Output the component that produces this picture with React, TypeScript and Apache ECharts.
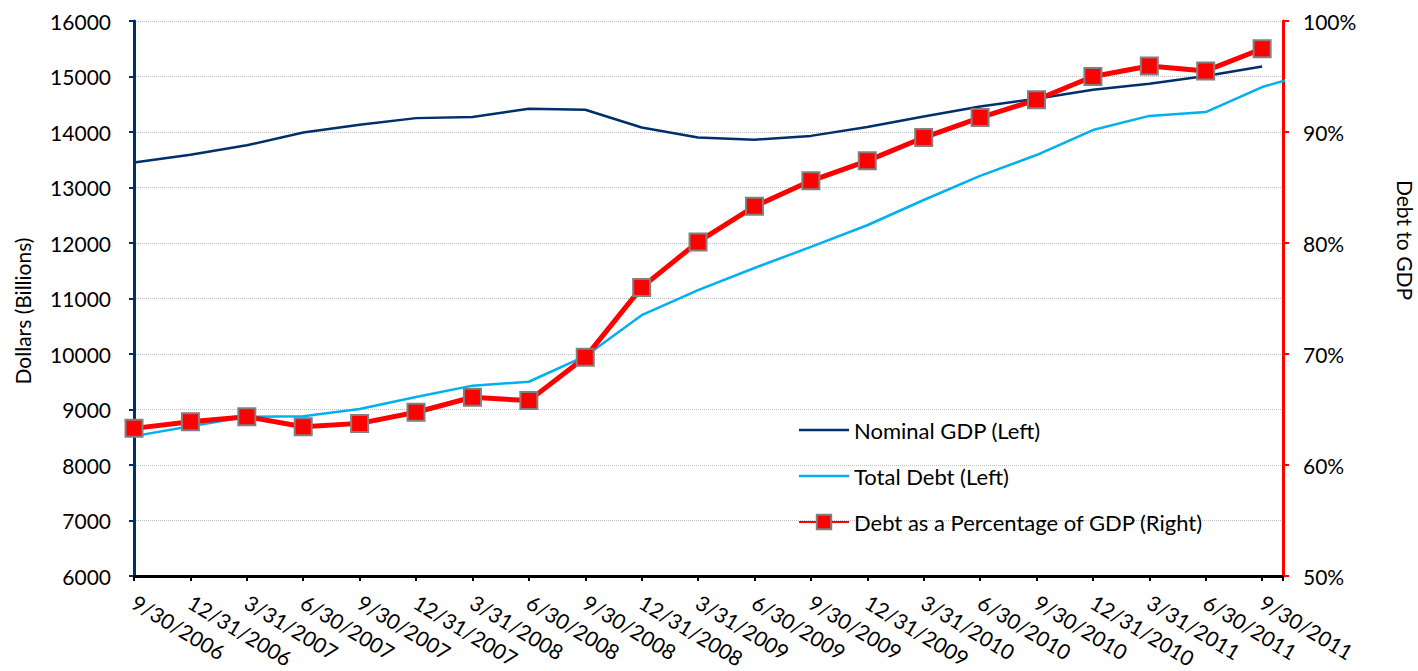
import React, { useEffect, useRef } from "react";
import * as echarts from "echarts";

// Quarter-end dates; the last one only carries the Total Debt trail past the frame edge
const categories = [
  "9/30/2006", "12/31/2006", "3/31/2007", "6/30/2007", "9/30/2007", "12/31/2007",
  "3/31/2008", "6/30/2008", "9/30/2008", "12/31/2008", "3/31/2009", "6/30/2009",
  "9/30/2009", "12/31/2009", "3/31/2010", "6/30/2010", "9/30/2010", "12/31/2010",
  "3/31/2011", "6/30/2011", "9/30/2011", "12/31/2011",
];

// Billions of dollars
const nominalGdp = [
  13450, 13590, 13760, 13990, 14130, 14250, 14270, 14420, 14400, 14080, 13900,
  13860, 13930, 14090, 14280, 14460, 14600, 14760, 14870, 15010, 15180,
];
const totalDebt = [
  8520, 8700, 8870, 8880, 9010, 9225, 9430, 9500, 9960, 10700, 11150, 11550,
  11930, 12320, 12775, 13210, 13585, 14035, 14290, 14360, 14810, 15100,
];
// Percent
const debtToGdp = [
  63.3, 63.9, 64.35, 63.45, 63.75, 64.75, 66.1, 65.8, 69.7, 76.0, 80.1, 83.3,
  85.6, 87.4, 89.5, 91.3, 92.9, 95.0, 95.95, 95.5, 97.5,
];

const leftTicks = { min: 6000, max: 16000, interval: 1000 };
const rightTicks = { min: 50, max: 100, interval: 10 };

const FONT = "Lato, 'Noto Sans', sans-serif";
const NAVY = "#002f6c";
const SKY = "#00b0f0";
const RED = "#ff0000";
// plain stroke used as legend key for the marker-less lines
const LINE_ICON = "path://M0,0 L100,0 L100,5 L0,5 Z";

const pairs = (arr: number[]) => arr.map((v, i) => [i, v]);

export default function App() {
  const ref = useRef<HTMLDivElement>(null);

  useEffect(() => {
    if (!ref.current) return;
    const chart = echarts.init(ref.current, undefined, { renderer: "svg" });
    chart.setOption({
      animation: false,
      backgroundColor: "#ffffff",
      textStyle: { fontFamily: FONT },
      grid: { left: 134, right: 135, top: 21, bottom: 95, containLabel: false },
      legend: {
        orient: "vertical",
        left: 798,
        top: 419,
        padding: 0,
        itemWidth: 50,
        itemHeight: 18,
        itemGap: 24,
        textStyle: { fontFamily: FONT, fontSize: 22, color: "#000000" },
        data: [
          { name: "Nominal GDP (Left)", icon: LINE_ICON, itemStyle: { color: NAVY } },
          { name: "Total Debt (Left)", icon: LINE_ICON, itemStyle: { color: SKY } },
          { name: "Debt as a Percentage of GDP (Right)" },
        ],
      },
      xAxis: {
        type: "value",
        min: 0,
        max: 20.37,
        interval: 1,
        splitLine: { show: false },
        axisLine: { show: true, onZero: false, lineStyle: { color: "#000000", width: 3 } },
        axisTick: { show: true, length: 5, lineStyle: { color: "#000000", width: 2 } },
        axisLabel: {
          rotate: -31,
          margin: 24,
          fontFamily: FONT,
          fontSize: 21,
          color: "#000000",
          formatter: (v: number) =>
            Number.isInteger(v) && v < categories.length - 1 ? categories[v] : "",
        },
      },
      yAxis: [
        {
          type: "value",
          ...leftTicks,
          position: "left",
          axisLine: { show: true, lineStyle: { color: NAVY, width: 3 } },
          axisTick: { show: true, length: 5, lineStyle: { color: NAVY, width: 2 } },
          axisLabel: {
            margin: 23,
            fontFamily: FONT,
            fontSize: 21,
            color: "#000000",
            formatter: (v: number) => String(v),
          },
          splitLine: { show: true, lineStyle: { color: "#bdbdbd", type: "dotted", width: 1 } },
        },
        {
          type: "value",
          ...rightTicks,
          position: "right",
          axisLine: { show: true, lineStyle: { color: RED, width: 3 } },
          axisTick: { show: true, length: 6, lineStyle: { color: RED, width: 2 } },
          axisLabel: {
            margin: 20,
            fontFamily: FONT,
            fontSize: 21,
            color: "#000000",
            formatter: "{value}%",
          },
          splitLine: { show: false },
        },
      ],
      graphic: [
        {
          type: "text",
          x: 22,
          y: 311,
          rotation: Math.PI / 2,
          style: {
            text: "Dollars (Billions)",
            fontFamily: FONT,
            fontSize: 21,
            fill: "#000000",
            align: "center",
            verticalAlign: "middle",
          },
        },
        {
          type: "text",
          x: 1405,
          y: 240,
          rotation: -Math.PI / 2,
          style: {
            text: "Debt to GDP",
            fontFamily: FONT,
            fontSize: 21,
            fill: "#000000",
            align: "center",
            verticalAlign: "middle",
          },
        },
      ],
      series: [
        {
          name: "Nominal GDP (Left)",
          type: "line",
          yAxisIndex: 0,
          data: pairs(nominalGdp),
          symbol: "none",
          lineStyle: { color: NAVY, width: 2.5 },
          itemStyle: { color: NAVY },
          z: 3,
        },
        {
          name: "Total Debt (Left)",
          type: "line",
          yAxisIndex: 0,
          data: pairs(totalDebt),
          symbol: "none",
          clip: true,
          lineStyle: { color: SKY, width: 2.5 },
          itemStyle: { color: SKY },
          z: 3,
        },
        {
          name: "Debt as a Percentage of GDP (Right)",
          type: "line",
          yAxisIndex: 1,
          data: pairs(debtToGdp),
          symbol: "rect",
          symbolSize: 17,
          showAllSymbol: true,
          clip: false,
          lineStyle: { color: RED, width: 5 },
          itemStyle: { color: RED, borderColor: "#808080", borderWidth: 2 },
          z: 4,
        },
      ],
    });
    return () => chart.dispose();
  }, []);

  return (
    <div
      ref={ref}
      style={{ position: "fixed", left: 0, top: 0, width: 1418, height: 671 }}
    />
  );
}
